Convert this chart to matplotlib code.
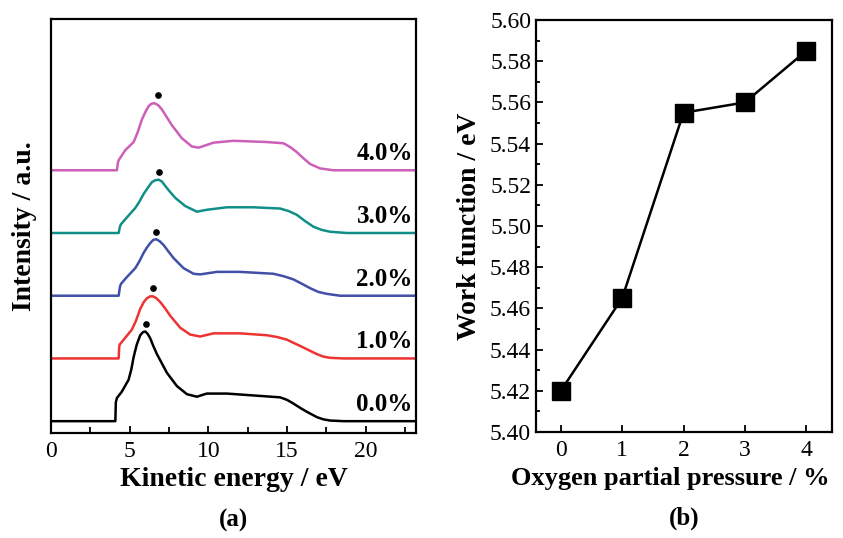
import matplotlib
matplotlib.use('Agg')
import matplotlib.pyplot as plt
from matplotlib.ticker import MultipleLocator

plt.rcParams['font.family'] = ['Liberation Serif', 'DejaVu Serif']

# (a) secondary electron spectra (intensity above each baseline)
e0 = [0, 4.09, 4.12, 4.19, 4.5, 4.93, 5.1, 5.25, 5.45, 5.67, 5.85, 5.99, 6.15, 6.31,
      6.5, 6.73, 7.05, 7.37, 8.0, 8.64, 9.27, 9.9, 11.18, 12.87, 14.56, 15.0, 15.41,
      15.85, 16.26, 16.89, 17.3, 17.74, 18.6, 23.2]
i0 = [0, 0, 0.3, 0.37, 0.47, 0.66, 0.82, 1.02, 1.22, 1.37, 1.42, 1.43, 1.39, 1.32,
      1.2, 1.07, 0.92, 0.77, 0.56, 0.43, 0.39, 0.44, 0.44, 0.41, 0.38, 0.34, 0.28,
      0.21, 0.15, 0.065, 0.03, 0.01, 0, 0]

e1 = [0, 4.3, 4.33, 4.36, 4.72, 5.14, 5.4, 5.67, 5.9, 6.1, 6.3, 6.48, 6.7, 6.94,
      7.25, 7.58, 8.21, 8.85, 9.48, 10.33, 12.02, 13.72, 14.4, 14.99, 15.4, 15.83,
      16.4, 16.89, 17.3, 17.74, 18.6, 23.2]
i1 = [0, 0, 0.17, 0.22, 0.33, 0.46, 0.6, 0.79, 0.9, 0.96, 0.99, 0.99, 0.96, 0.9,
      0.8, 0.68, 0.49, 0.38, 0.35, 0.4, 0.4, 0.37, 0.34, 0.3, 0.25, 0.2, 0.13,
      0.07, 0.03, 0.01, 0, 0]

e2 = [0, 4.3, 4.38, 4.45, 4.83, 5.36, 5.62, 5.88, 6.1, 6.31, 6.5, 6.69, 6.9, 7.15,
      7.45, 7.79, 8.42, 9.06, 9.48, 10.54, 12.02, 14.14, 14.8, 15.41, 15.95, 16.47,
      17.0, 17.53, 18.37, 23.2]
i2 = [0, 0, 0.14, 0.19, 0.3, 0.44, 0.55, 0.68, 0.77, 0.84, 0.89, 0.9, 0.87, 0.81,
      0.71, 0.6, 0.44, 0.35, 0.34, 0.38, 0.38, 0.35, 0.31, 0.26, 0.19, 0.12,
      0.06, 0.03, 0, 0]

e3 = [0, 4.3, 4.38, 4.45, 4.83, 5.36, 5.62, 5.88, 6.15, 6.41, 6.62, 6.84, 7.05, 7.26,
      7.55, 7.9, 8.53, 9.27, 9.9, 11.18, 12.87, 14.56, 15.1, 15.62, 16.15, 16.68,
      17.2, 17.74, 18.8, 23.2]
i3 = [0, 0, 0.1, 0.14, 0.25, 0.4, 0.5, 0.62, 0.72, 0.81, 0.84, 0.85, 0.82, 0.75,
      0.66, 0.56, 0.43, 0.34, 0.37, 0.41, 0.41, 0.39, 0.35, 0.29, 0.19, 0.1,
      0.05, 0.02, 0, 0]

e4 = [0, 4.19, 4.25, 4.3, 4.72, 5.25, 5.5, 5.78, 6.0, 6.2, 6.38, 6.56, 6.8, 7.05,
      7.35, 7.68, 8.32, 8.95, 9.38, 10.33, 11.6, 13.72, 14.78, 15.2, 15.62, 16.05,
      16.47, 17.1, 17.95, 23.2]
i4 = [0, 0, 0.12, 0.16, 0.32, 0.45, 0.6, 0.81, 0.93, 1.02, 1.06, 1.07, 1.04, 0.97,
      0.85, 0.72, 0.51, 0.38, 0.36, 0.44, 0.47, 0.45, 0.43, 0.37, 0.29, 0.19,
      0.1, 0.03, 0, 0]

peak_e = [6.05, 6.46, 6.67, 6.84, 6.8]
peak_i = [1.55, 1.13, 1.02, 0.98, 1.2]
labels = ['0.0%', '1.0%', '2.0%', '3.0%', '4.0%']
colors = ['black', '#ee3333', '#4050a8', '#108f88', '#cc5fb8']

# (b) work function vs oxygen partial pressure
o2 = [0, 1, 2, 3, 4]
wf = [5.42, 5.465, 5.555, 5.56, 5.585]

fig = plt.figure(figsize=(8.43, 5.38), dpi=100)
ax1 = fig.add_axes([0.0605, 0.195, 0.433, 0.7695])
ax2 = fig.add_axes([0.6358, 0.197, 0.3511, 0.7658])

energies = [e0, e1, e2, e3, e4]
intens = [i0, i1, i2, i3, i4]
for k in range(5):
    ax1.plot(energies[k], [v + k for v in intens[k]], color=colors[k], lw=1.8)
    ax1.plot(peak_e[k], peak_i[k] + k, 'o', color='black', ms=3.8)
    ax1.text(23.0, k + 0.08, labels[k], ha='right', va='bottom',
             fontsize=18, fontweight='bold')

ax1.set_xlim(0, 23.2)
ax1.set_ylim(-0.19, 6.41)
ax1.set_yticks([])
ax1.xaxis.set_major_locator(MultipleLocator(5))
ax1.xaxis.set_minor_locator(MultipleLocator(2.5))
ax1.tick_params(axis='x', which='both', direction='in', top=False, labelsize=17, pad=6)
ax1.tick_params(axis='x', which='major', length=5, width=1.3)
ax1.tick_params(axis='x', which='minor', length=4, width=1.3)
ax1.set_xlabel('Kinetic energy / eV', fontsize=20, fontweight='bold', labelpad=3)
ax1.set_ylabel('Intensity / a.u.', fontsize=20, fontweight='bold', labelpad=10)
ax1.text(0.5, -0.21, '(a)', transform=ax1.transAxes, ha='center', va='center',
         fontsize=18, fontweight='bold')

ax2.plot(o2, wf, '-', color='black', lw=1.8, marker='s', ms=13)
ax2.set_xlim(-0.405, 4.42)
ax2.set_ylim(5.40, 5.60)
ax2.set_xticks(o2)
ax2.yaxis.set_major_locator(MultipleLocator(0.02))
ax2.yaxis.set_minor_locator(MultipleLocator(0.01))
ax2.yaxis.set_major_formatter(plt.FormatStrFormatter('%.2f'))
ax2.tick_params(which='both', direction='in', top=False, right=False, labelsize=17)
ax2.tick_params(axis='x', pad=6)
ax2.tick_params(which='major', length=5, width=1.3)
ax2.tick_params(which='minor', length=3, width=1.3)
ax2.set_xlabel('Oxygen partial pressure / %', fontsize=19, fontweight='bold', labelpad=3)
ax2.xaxis.set_label_coords(0.455, -0.085)
ax2.set_ylabel('Work function / eV', fontsize=20, fontweight='bold', labelpad=6)
ax2.text(0.5, -0.21, '(b)', transform=ax2.transAxes, ha='center', va='center',
         fontsize=18, fontweight='bold')

for ax in [ax1, ax2]:
    for sp in ax.spines.values():
        sp.set_linewidth(1.6)

fig.savefig('out.png', dpi=100)
